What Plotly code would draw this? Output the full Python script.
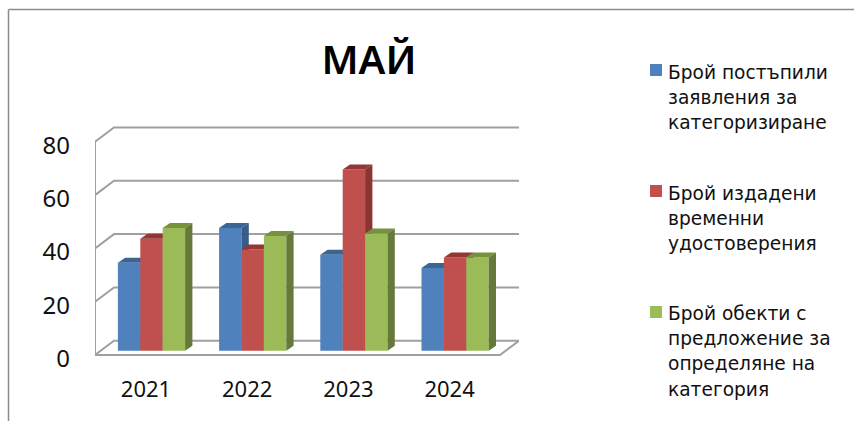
import plotly.graph_objects as go

W, H = 854, 421

# ---- data ----
years = ["2021", "2022", "2023", "2024"]
y_ticks = [0, 20, 40, 60, 80]
series_lines = [
    ["Брой постъпили", "заявления за", "категоризиране"],
    ["Брой издадени", "временни", "удостоверения"],
    ["Брой обекти с", "предложение за", "определяне на", "категория"],
]
received = [33, 46, 36, 31]
issued = [42, 38, 68, 35]
proposed = [46, 43, 44, 35]

# ---- styling ----
front_cols = ["#4F81BD", "#C0504D", "#9BBB59"]
top_cols = ["#3B6593", "#943634", "#76923C"]
side_cols = ["#385D8A", "#8A3533", "#66793A"]
grid_col = "#A0A0A0"
FONT = "Noto Sans"
LEGEND_FONT = "DejaVu Sans"

# pixel geometry of the pseudo-3D box
X_L, X_R = 95, 519
Y_T, Y_B = 120, 365
BAR_STEP = 101.2
BAR_W = 22.4 / BAR_STEP
PX_UNIT = 2.665
BAR_DX = 7.3 / BAR_STEP
BAR_DY = 5.0 / PX_UNIT

def xr(center):
    return [(X_L - center) / BAR_STEP, (X_R - center) / BAR_STEP]

def yr(zero):
    return [(zero - Y_B) / PX_UNIT, (zero - Y_T) / PX_UNIT]

dom_x = [X_L / W, X_R / W]
dom_y = [1 - Y_B / H, 1 - Y_T / H]

fig = go.Figure()

# back wall, floor and gridlines (base axes, under everything)
MAIN_X0, MAIN_Y0 = 146, 358.5
def mx(p): return (p - MAIN_X0) / BAR_STEP
def my(level, p0): return level + (MAIN_Y0 - p0) / PX_UNIT

FRONT_L, BACK_L, FRONT_R = mx(95), mx(114), mx(500)
BACK_R = mx(519)
for lv in y_ticks:
    fig.add_trace(go.Scatter(
        x=[FRONT_L, BACK_L, BACK_R],
        y=[my(lv, 355), my(lv, 340.7), my(lv, 340.7)],
        mode="lines", line=dict(color=grid_col, width=2),
        showlegend=False, hoverinfo="skip", xaxis="x", yaxis="y"))
fig.add_trace(go.Scatter(
    x=[FRONT_L, FRONT_L, FRONT_R, BACK_R],
    y=[my(y_ticks[-1], 355), my(0, 355), my(0, 355), my(0, 340.7)],
    mode="lines", line=dict(color=grid_col, width=2),
    showlegend=False, hoverinfo="skip", xaxis="x", yaxis="y"))

# bars: one overlaid axis pair per series gives the painter's order
offsets = [-1.5 * BAR_W, -0.5 * BAR_W, 0.5 * BAR_W]
all_vals = [received, issued, proposed]
idx = list(range(len(years)))
for s, vals in enumerate(all_vals):
    ax, ay = f"x{s + 2}", f"y{s + 2}"
    fig.add_trace(go.Bar(
        x=idx, y=vals, width=BAR_W, offset=offsets[s],
        marker=dict(color=front_cols[s], line=dict(width=0)),
        name=" ".join(series_lines[s]), showlegend=False, xaxis=ax, yaxis=ay))
    for i, v in zip(idx, vals):
        l = i + offsets[s]
        r = l + BAR_W
        fig.add_trace(go.Scatter(
            x=[l, r, r + BAR_DX, l + BAR_DX, l],
            y=[v, v, v + BAR_DY, v + BAR_DY, v],
            mode="lines", fill="toself", fillcolor=top_cols[s],
            line=dict(width=0), showlegend=False, hoverinfo="skip",
            xaxis=ax, yaxis=ay))
        fig.add_trace(go.Scatter(
            x=[r, r + BAR_DX, r + BAR_DX, r, r],
            y=[0, BAR_DY, v + BAR_DY, v, 0],
            mode="lines", fill="toself", fillcolor=side_cols[s],
            line=dict(width=0), showlegend=False, hoverinfo="skip",
            xaxis=ax, yaxis=ay))

hidden = dict(visible=False, showgrid=False, zeroline=False, fixedrange=True, automargin=False)
layout_axes = {}
for s in range(3):
    layout_axes[f"xaxis{s + 2}"] = dict(hidden, domain=dom_x, range=xr(151.5),
                                       overlaying="x", anchor=f"y{s + 2}")
    layout_axes[f"yaxis{s + 2}"] = dict(hidden, domain=dom_y, range=yr(350.7),
                                       overlaying="y", anchor=f"x{s + 2}")

# legend: swatch beside the first line, then wrapped text lines
legend_tops = [72, 193, 313]
swatch_mid = [70, 191, 312]
LINE_STEP = 25.4
shapes = [
    dict(type="line", xref="paper", yref="paper", x0=8.5 / W, x1=8.5 / W, y0=0, y1=1 - 9.5 / H,
         line=dict(color="#8C8C8C", width=1.5)),
    dict(type="line", xref="paper", yref="paper", x0=8.5 / W, x1=1, y0=1 - 9.5 / H, y1=1 - 9.5 / H,
         line=dict(color="#8C8C8C", width=1.5)),
]
annotations = []
for s, lines in enumerate(series_lines):
    shapes.append(dict(type="rect", xref="paper", yref="paper", line=dict(width=0),
                       fillcolor=front_cols[s], x0=650 / W, x1=662 / W,
                       y0=1 - (swatch_mid[s] + 6) / H, y1=1 - (swatch_mid[s] - 6) / H))
    for n, txt in enumerate(lines):
        annotations.append(dict(text=txt, xref="paper", yref="paper", showarrow=False,
                                x=667 / W, y=1 - (legend_tops[s] + n * LINE_STEP) / H,
                                xanchor="left", yanchor="middle", xshift=0, borderpad=0,
                                font=dict(family=LEGEND_FONT, size=18.6, color="#111111")))

fig.update_layout(
    width=W, height=H, autosize=False, showlegend=False,
    margin=dict(l=0, r=0, t=0, b=0),
    paper_bgcolor="white", plot_bgcolor="rgba(0,0,0,0)",
    font=dict(family=FONT, color="#111111"),
    title=dict(text="МАЙ", x=369 / W, y=1 - 60 / H, xanchor="center", yanchor="middle",
               font=dict(family=FONT, size=40, color="black", weight=600)),
    xaxis=dict(domain=dom_x, range=xr(MAIN_X0), tickmode="array", tickvals=idx, ticktext=years,
               showgrid=False, zeroline=False, showline=False, ticks="", ticklabelstandoff=9,
               tickfont=dict(size=22, color="#111111"), fixedrange=True, automargin=False),
    yaxis=dict(domain=dom_y, range=yr(MAIN_Y0), tickmode="array", tickvals=y_ticks,
               showgrid=False, zeroline=False, showline=False, ticks="", ticklabelstandoff=24,
               tickfont=dict(size=24, color="#111111"), fixedrange=True, automargin=False),
    shapes=shapes, annotations=annotations,
    **layout_axes,
)

fig.write_html("out.html", post_script="document.body.style.margin='0';", config=dict(displayModeBar=False))
